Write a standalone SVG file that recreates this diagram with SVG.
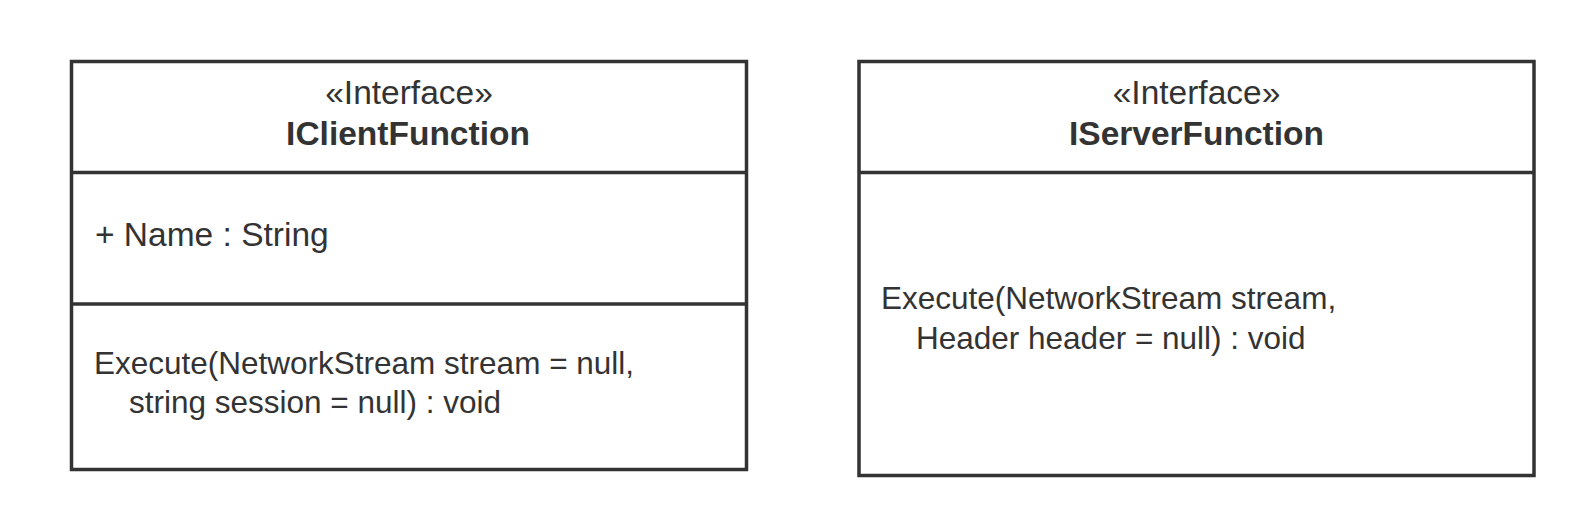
<svg xmlns="http://www.w3.org/2000/svg" width="1596" height="531" viewBox="0 0 1596 531">
  <style>
    .box { fill: #ffffff; stroke: #333333; stroke-width: 3.5; }
    .div { stroke: #333333; stroke-width: 3.5; fill: none; }
    .t { font-family: "Liberation Sans", Arial, sans-serif; font-size: 31.5px; fill: #333333; }
    .h { font-size: 33.5px; text-anchor: middle; }
    .a { font-size: 33.5px; }
    .b { font-weight: bold; }
  </style>
  <rect width="1596" height="531" fill="#ffffff"/>
  <g id="IClientFunction">
    <rect class="box" x="71.5" y="61.5" width="675" height="408"/>
    <line class="div" x1="71.5" y1="172.5" x2="746.5" y2="172.5"/>
    <line class="div" x1="71.5" y1="304" x2="746.5" y2="304"/>
    <text class="t h" x="409" y="104">«Interface»</text>
    <text class="t h b" x="408" y="145">IClientFunction</text>
    <text class="t a" x="95" y="246">+ Name : String</text>
    <text class="t" x="94" y="374">Execute(NetworkStream stream = null,</text>
    <text class="t" x="129" y="413">string session = null) : void</text>
  </g>
  <g id="IServerFunction">
    <rect class="box" x="859" y="61.5" width="675" height="414"/>
    <line class="div" x1="859" y1="172.5" x2="1534" y2="172.5"/>
    <text class="t h" x="1196.5" y="104">«Interface»</text>
    <text class="t h b" x="1196.5" y="145">IServerFunction</text>
    <text class="t" x="881" y="309">Execute(NetworkStream stream,</text>
    <text class="t" x="916" y="349">Header header = null) : void</text>
  </g>
  <g id="connectors"></g>
</svg>
